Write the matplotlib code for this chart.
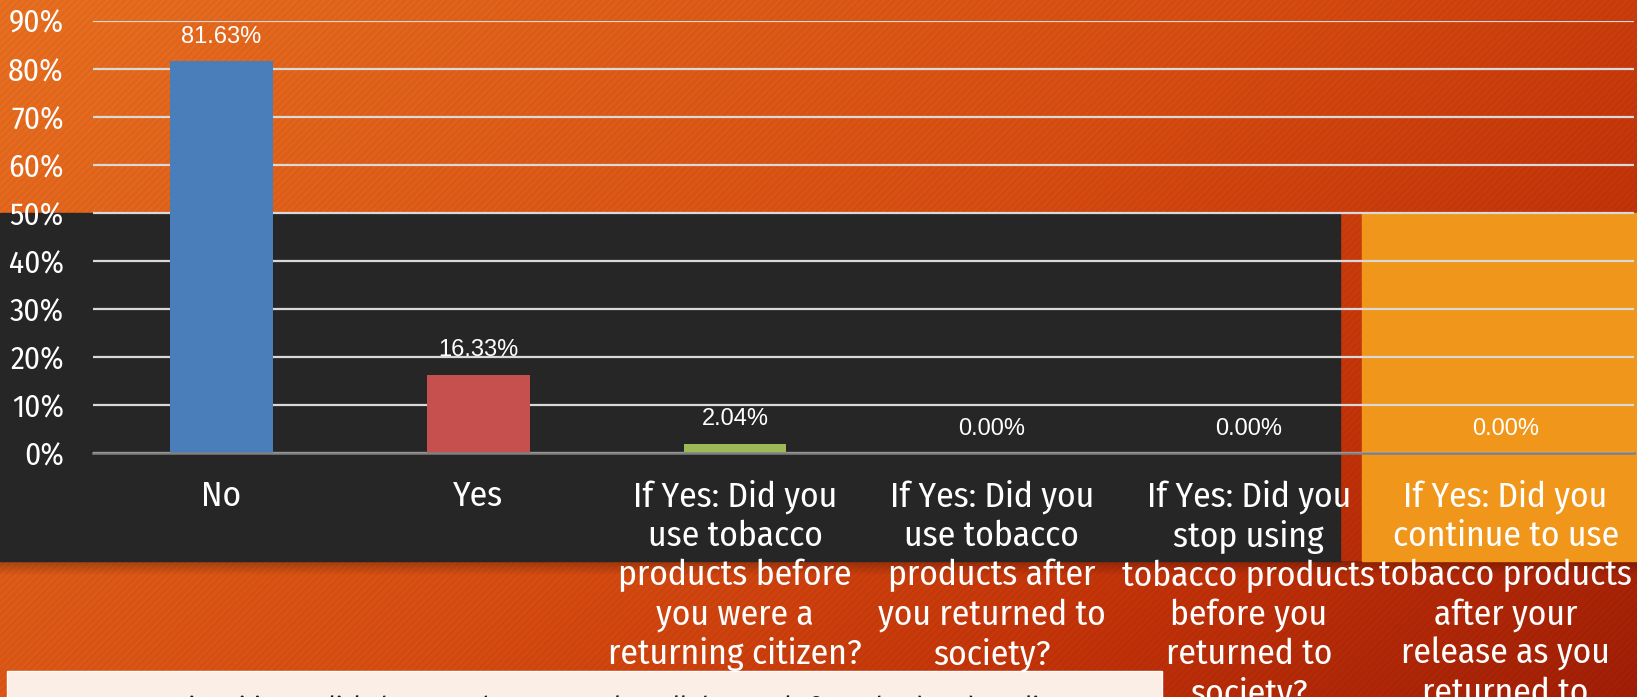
import numpy as np
import matplotlib
matplotlib.use("Agg")
import matplotlib.pyplot as plt
from matplotlib import font_manager
from matplotlib.patches import Rectangle

# --- data ---
categories = [
    "No",
    "Yes",
    "If Yes: Did you\nuse tobacco\nproducts before\nyou were a\nreturning citizen?",
    "If Yes: Did you\nuse tobacco\nproducts after\nyou returned to\nsociety?",
    "If Yes: Did you\nstop using\ntobacco products\nbefore you\nreturned to\nsociety?",
    "If Yes: Did you\ncontinue to use\ntobacco products\nafter your\nrelease as you\nreturned to\nsociety?",
]
values = [81.63, 16.33, 2.04, 0.00, 0.00, 0.00]
bar_colors = ["#4A7EBB", "#C5504E", "#9BBB59", "#8064A2", "#4BACC6", "#F79646"]
yticks = [0, 10, 20, 30, 40, 50, 60, 70, 80, 90]
ytick_labels = [f"{v}%" for v in yticks]
footer = "Are you a returning citizen? Click the arrow button to select all that apply from the dropdown list"


def pick_font(names, fallback="DejaVu Sans"):
    for name in names:
        try:
            font_manager.findfont(name, fallback_to_default=False)
            return name
        except Exception:
            pass
    return fallback


narrow = pick_font(["Liberation Sans Narrow", "Fira Sans Condensed", "Roboto Condensed"])
regular = pick_font(["Liberation Sans"])

W, H = 1637, 697
fig = plt.figure(figsize=(W / 100, H / 100), dpi=100)

# --- background: diagonal orange->red gradient with faint stripes ---
yy, xx = np.mgrid[0:H, 0:W]
t = np.clip(0.65 * xx / W + 0.35 * yy / H, 0, 1)
stops = np.array([0.0, 0.5, 0.75, 1.0])
cols = np.array([[229, 110, 32], [212, 76, 17], [192, 50, 9], [158, 30, 6]]) / 255
img = np.stack([np.interp(t, stops, cols[:, c]) for c in range(3)], axis=-1)
stripes = 1 + 0.025 * np.sin((xx + yy) * 2 * np.pi / 7)
img = img * stripes[..., None]
# soft shadow under the panels
for r in range(14):
    img[561 + r, :, :] *= 0.75 + 0.25 * r / 14
img = np.clip(img, 0, 1)

bg = fig.add_axes([0, 0, 1, 1])
bg.imshow(img, extent=(0, W, H, 0), aspect="auto", interpolation="nearest")
bg.set_xlim(0, W)
bg.set_ylim(H, 0)
bg.set_axis_off()
bg.add_patch(Rectangle((0, 213), 1340, 348, color="#262626"))
bg.add_patch(Rectangle((1362, 213), 275, 348, color="#F0961A"))
bg.add_patch(Rectangle((7, 671), 1155, 40, facecolor="#FBEEE6", edgecolor="#FFFFFF", lw=1))
bg.text(14, 716, footer, va="baseline", ha="left", fontsize=19, color="#1A1A1A", family=narrow)

# --- chart ---
ax = fig.add_axes([93 / W, (H - 453.3) / H, (1634 - 93) / W, (453.3 - 21) / H])
ax.patch.set_alpha(0)
x = np.arange(len(categories))
ax.bar(x, values, width=0.4, color=bar_colors, zorder=3)

for xi, v in zip(x, values):
    ax.annotate(f"{v:.2f}%", (xi, v), xytext=(0, 17.6), textcoords="offset points",
                ha="center", va="center", color="white", fontsize=17, family=regular)

ax.set_xlim(-0.5, 5.5)
ax.set_ylim(0, 90)
ax.set_yticks(yticks)
ax.set_yticklabels(ytick_labels, fontsize=22.5, color="white", family=narrow)
ax.set_xticks(x)
ax.set_xticklabels(categories, fontsize=25.5, color="white", family=narrow, linespacing=1.2)
ax.tick_params(axis="y", length=0, pad=21)
ax.tick_params(axis="x", length=0, pad=19)

ax.yaxis.grid(True, color="#D9D9D9", lw=1.6)
ax.set_axisbelow(True)
for s in ["top", "right", "left"]:
    ax.spines[s].set_visible(False)
ax.spines["bottom"].set_color("#808080")
ax.spines["bottom"].set_linewidth(1.8)
ax.spines["bottom"].set_zorder(4)

fig.savefig("out.png", dpi=100)
